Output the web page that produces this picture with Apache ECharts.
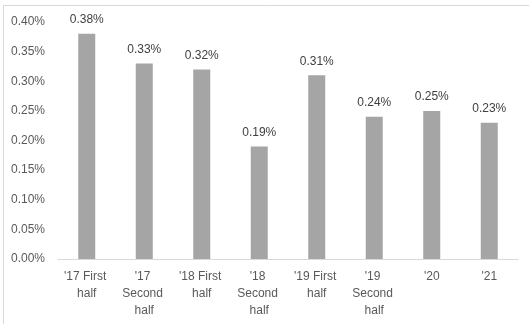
<!DOCTYPE html>
<html>
<head>
<meta charset="utf-8">
<script src="https://cdn.jsdelivr.net/npm/echarts@6/dist/echarts.min.js"></script>
<style>html,body{margin:0;padding:0;background:#fff;}#c{width:529px;height:324px;}</style>
</head>
<body>
<div id="c"></div>
<script>
const categories = ["'17 First half", "'17 Second half", "'18 First half", "'18 Second half", "'19 First half", "'19 Second half", "'20", "'21"];
const values = [0.38, 0.33, 0.32, 0.19, 0.31, 0.24, 0.25, 0.23];

const chart = echarts.init(document.getElementById('c'), null, {renderer: 'canvas'});
const font = "'Liberation Sans', 'DejaVu Sans', sans-serif";
chart.setOption({
  animation: false,
  backgroundColor: '#fff',
  graphic: [{
    type: 'rect',
    shape: {x: 3.5, y: 5.5, width: 600, height: 400},
    style: {fill: 'none', stroke: '#d9d9d9', lineWidth: 1},
    silent: true
  }],
  grid: {left: 58, right: 11, top: 22, bottom: 65, containLabel: false},
  xAxis: {
    type: 'category',
    data: categories,
    axisLine: {lineStyle: {color: '#d9d9d9', width: 1}},
    axisTick: {show: false},
    axisLabel: {
      color: '#595959', fontSize: 12, fontFamily: font, interval: 0,
      width: 54, overflow: 'break', lineHeight: 17, margin: 9, align: 'center'
    }
  },
  yAxis: {
    type: 'value',
    min: 0, max: 0.4, interval: 0.05,
    splitLine: {show: false},
    axisLine: {show: false},
    axisTick: {show: false},
    axisLabel: {
      color: '#595959', fontSize: 12, fontFamily: font, margin: 13,
      formatter: v => v.toFixed(2) + '%'
    }
  },
  series: [{
    type: 'bar',
    data: values,
    barWidth: 17,
    itemStyle: {color: '#a5a5a5'},
    label: {
      show: true, position: 'top', distance: 8,
      color: '#404040', fontSize: 12, fontFamily: font,
      formatter: p => p.value.toFixed(2) + '%'
    }
  }]
});
</script>
</body>
</html>
